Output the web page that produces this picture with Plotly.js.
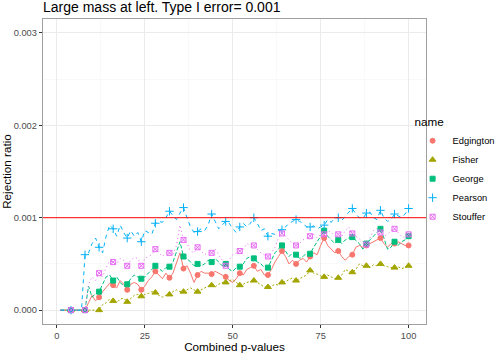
<!DOCTYPE html>
<html>
<head>
<meta charset="utf-8">
<script src="https://cdn.plot.ly/plotly-3.0.1.min.js"></script>
<style>
  body { margin: 0; background: #fff; }
  #chart { width: 498px; height: 353px; }
</style>
</head>
<body>
<div id="chart"></div>
<script>
// number of combined p-values (x axis)
const combinedP = [
  1, 2, 3, 4, 5, 6, 7, 8, 9, 10, 11, 12, 13, 14, 15, 16, 17, 18, 19, 20,
  21, 22, 23, 24, 25, 26, 27, 28, 29, 30, 31, 32, 33, 34, 35, 36, 37, 38, 39, 40,
  41, 42, 43, 44, 45, 46, 47, 48, 49, 50, 51, 52, 53, 54, 55, 56, 57, 58, 59, 60,
  61, 62, 63, 64, 65, 66, 67, 68, 69, 70, 71, 72, 73, 74, 75, 76, 77, 78, 79, 80,
  81, 82, 83, 84, 85, 86, 87, 88, 89, 90, 91, 92, 93, 94, 95, 96, 97, 98, 99, 100
];

const methods = ['Edgington', 'Fisher', 'George', 'Pearson', 'Stouffer'];

// rejection ratios
const edgington = [
  0, 0, 0, 0, 0, 0, 0, 0, 0.00008, 0.00016,
  0.00010, 0.00014, 0.00020, 0.00024, 0.00029, 0.00027, 0.00024, 0.00032, 0.00028, 0.00022,
  0.00028, 0.00030, 0.00028, 0.00022, 0.00026, 0.00032, 0.00036, 0.00042, 0.00038, 0.00034,
  0.00040, 0.00035, 0.00040, 0.00052, 0.00062, 0.00045, 0.00048, 0.00040, 0.00030, 0.00038,
  0.00042, 0.00040, 0.00040, 0.00039, 0.00042, 0.00040, 0.00038, 0.00036, 0.00032, 0.00030,
  0.00034, 0.00040, 0.00038, 0.00044, 0.00046, 0.00048, 0.00042, 0.00044, 0.00038, 0.00038,
  0.00044, 0.00052, 0.00058, 0.00064, 0.00058, 0.00050, 0.00054, 0.00050, 0.00054, 0.00056,
  0.00052, 0.00058, 0.00062, 0.00060, 0.00070, 0.00078, 0.00070, 0.00066, 0.00062, 0.00064,
  0.00058, 0.00054, 0.00058, 0.00060, 0.00068, 0.00070, 0.00068, 0.00070, 0.00072, 0.00074,
  0.00076, 0.00078, 0.00072, 0.00068, 0.00072, 0.00072, 0.00074, 0.00072, 0.00070, 0.00070
];
const fisher = [
  0, 0, 0, 0, 0, 0, 0, 0, 0, 0,
  0, 0, 0.00006, 0.00008, 0.00012, 0.00010, 0.00008, 0.00012, 0.00013, 0.00009,
  0.00012, 0.00016, 0.00017, 0.00015, 0.00017, 0.00018, 0.00020, 0.00019, 0.00016, 0.00014,
  0.00016, 0.00017, 0.00020, 0.00022, 0.00020, 0.00020, 0.00022, 0.00024, 0.00022, 0.00020,
  0.00022, 0.00024, 0.00026, 0.00027, 0.00025, 0.00028, 0.00030, 0.00030, 0.00032, 0.00033,
  0.00030, 0.00027, 0.00028, 0.00030, 0.00031, 0.00032, 0.00030, 0.00027, 0.00025, 0.00025,
  0.00026, 0.00028, 0.00027, 0.00030, 0.00031, 0.00033, 0.00035, 0.00032, 0.00034, 0.00036,
  0.00038, 0.00043, 0.00040, 0.00039, 0.00037, 0.00036, 0.00038, 0.00036, 0.00034, 0.00035,
  0.00038, 0.00044, 0.00042, 0.00041, 0.00044, 0.00050, 0.00048, 0.00048, 0.00046, 0.00049,
  0.00048, 0.00050, 0.00048, 0.00047, 0.00046, 0.00046, 0.00047, 0.00045, 0.00046, 0.00048
];
const george = [
  0, 0, 0, 0, 0, 0, 0, 0, 0.00026, 0.00014,
  0.00018, 0.00020, 0.00028, 0.00036, 0.00038, 0.00032, 0.00036, 0.00030, 0.00026, 0.00028,
  0.00034, 0.00038, 0.00036, 0.00034, 0.00036, 0.00040, 0.00044, 0.00048, 0.00045, 0.00042,
  0.00046, 0.00047, 0.00052, 0.00064, 0.00074, 0.00058, 0.00056, 0.00052, 0.00048, 0.00050,
  0.00048, 0.00050, 0.00054, 0.00052, 0.00056, 0.00052, 0.00048, 0.00050, 0.00044, 0.00042,
  0.00046, 0.00047, 0.00050, 0.00056, 0.00058, 0.00056, 0.00052, 0.00050, 0.00046, 0.00046,
  0.00054, 0.00062, 0.00066, 0.00070, 0.00064, 0.00058, 0.00062, 0.00060, 0.00056, 0.00058,
  0.00062, 0.00061, 0.00068, 0.00074, 0.00080, 0.00086, 0.00080, 0.00076, 0.00072, 0.00076,
  0.00072, 0.00076, 0.00078, 0.00079, 0.00076, 0.00072, 0.00066, 0.00072, 0.00076, 0.00080,
  0.00084, 0.00088, 0.00078, 0.00066, 0.00068, 0.00074, 0.00070, 0.00074, 0.00076, 0.00080
];
const pearson = [
  0, 0, 0, 0, 0, 0, 0, 0.00060, 0.00062, 0.00072,
  0.00078, 0.00068, 0.00062, 0.00080, 0.00092, 0.00088, 0.00080, 0.00092, 0.00084, 0.00078,
  0.00086, 0.00080, 0.00084, 0.00074, 0.00086, 0.00084, 0.00082, 0.00094, 0.00096, 0.00095,
  0.00100, 0.00107, 0.00102, 0.00098, 0.00105, 0.00111, 0.00100, 0.00090, 0.00084, 0.00085,
  0.00088, 0.00086, 0.00092, 0.00104, 0.00096, 0.00088, 0.00092, 0.00096, 0.00094, 0.00088,
  0.00084, 0.00090, 0.00094, 0.00090, 0.00094, 0.00100, 0.00094, 0.00086, 0.00088, 0.00080,
  0.00083, 0.00082, 0.00086, 0.00087, 0.00090, 0.00094, 0.00096, 0.00098, 0.00096, 0.00094,
  0.00090, 0.00090, 0.00091, 0.00088, 0.00090, 0.00092, 0.00098, 0.00095, 0.00100, 0.00100,
  0.00097, 0.00102, 0.00106, 0.00110, 0.00104, 0.00100, 0.00099, 0.00105, 0.00106, 0.00100,
  0.00098, 0.00108, 0.00100, 0.00096, 0.00098, 0.00104, 0.00102, 0.00100, 0.00104, 0.00110
];
const stouffer = [
  0, 0, 0, 0, 0, 0, 0, 0, 0.00028, 0.00036,
  0.00032, 0.00040, 0.00036, 0.00046, 0.00053, 0.00052, 0.00050, 0.00056, 0.00054, 0.00048,
  0.00054, 0.00057, 0.00056, 0.00048, 0.00056, 0.00058, 0.00060, 0.00066, 0.00062, 0.00058,
  0.00062, 0.00062, 0.00060, 0.00070, 0.00092, 0.00076, 0.00072, 0.00064, 0.00062, 0.00068,
  0.00064, 0.00060, 0.00062, 0.00062, 0.00066, 0.00060, 0.00054, 0.00048, 0.00054, 0.00060,
  0.00062, 0.00064, 0.00066, 0.00072, 0.00070, 0.00070, 0.00066, 0.00062, 0.00060, 0.00058,
  0.00062, 0.00068, 0.00078, 0.00083, 0.00080, 0.00076, 0.00072, 0.00070, 0.00072, 0.00076,
  0.00078, 0.00080, 0.00082, 0.00078, 0.00082, 0.00082, 0.00086, 0.00084, 0.00080, 0.00082,
  0.00080, 0.00086, 0.00090, 0.00083, 0.00080, 0.00078, 0.00074, 0.00071, 0.00078, 0.00086,
  0.00088, 0.00084, 0.00080, 0.00082, 0.00086, 0.00088, 0.00084, 0.00080, 0.00078, 0.00082
];

const typeIError = 0.001;

const seriesValues = [edgington, fisher, george, pearson, stouffer];
const colors = ['#F8766D', '#A3A500', '#00BF7D', '#00B0F6', '#E76BF3'];
const dashes = ['solid', '2px,2px', '4px,2px', '4px,4px', '1px,3px'];
const symbols = ['circle', 'triangle-up', 'square', 'cross-thin-open', 'square-x-open'];
const symbolSizes = [5, 6, 5, 6, 5];

const font = 'Liberation Sans, Arial, Helvetica, sans-serif';

// lines first, then the points (one point every 4th value)
const lineTraces = seriesValues.map((vals, i) => ({
    x: combinedP, y: vals, type: 'scatter', mode: 'lines',
    line: { color: colors[i], width: 1, dash: dashes[i] },
    showlegend: false, hoverinfo: 'skip'
}));

const pointTraces = seriesValues.map((vals, i) => {
    const idx = combinedP.map((p, k) => k).filter(k => combinedP[k] % 4 === 0);
    return {
        x: idx.map(k => combinedP[k]),
        y: idx.map(k => vals[k]),
        type: 'scatter', mode: 'markers', name: methods[i],
        marker: {
            symbol: symbols[i], size: symbolSizes[i], color: colors[i],
            line: { color: colors[i], width: 1 }
        }
    };
});

const layout = {
    width: 498, height: 353,
    margin: { l: 43, r: 72, t: 19, b: 29, autoexpand: false },
    paper_bgcolor: '#fff', plot_bgcolor: '#fff',
    font: { family: font, color: '#000' },
    title: {
        text: 'Large mass at left. Type I error= 0.001',
        font: { size: 14, color: '#000' },
        xref: 'paper', x: 0, xanchor: 'left',
        yref: 'container', y: 1, yanchor: 'top', pad: { t: 2 }
    },
    xaxis: {
        range: [-3.95, 104.95], tick0: 0, dtick: 25,
        ticks: 'outside', ticklen: 3, tickcolor: '#333',
        tickfont: { size: 9.3, color: '#4D4D4D' },
        showgrid: true, gridcolor: '#EBEBEB', gridwidth: 1,
        minor: { dtick: 12.5, showgrid: true, gridcolor: '#F5F5F5', gridwidth: 0.6 },
        zeroline: false, showline: true, mirror: true, linecolor: '#A0A0A0', linewidth: 1.2,
        title: { text: 'Combined p-values', font: { size: 11.7 }, standoff: 2 }
    },
    yaxis: {
        range: [-0.00015, 0.00315], tick0: 0, dtick: 0.001, tickformat: '.3f',
        ticks: 'outside', ticklen: 3, tickcolor: '#333',
        tickfont: { size: 9.3, color: '#4D4D4D' },
        showgrid: true, gridcolor: '#EBEBEB', gridwidth: 1,
        minor: { dtick: 0.0005, showgrid: true, gridcolor: '#F5F5F5', gridwidth: 0.6 },
        zeroline: false, showline: true, mirror: true, linecolor: '#A0A0A0', linewidth: 1.2,
        title: { text: 'Rejection ratio', font: { size: 11.7 }, standoff: 4 }
    },
    shapes: [{
        type: 'line', xref: 'paper', x0: 0, x1: 1, yref: 'y', y0: typeIError, y1: typeIError,
        line: { color: '#FF0000', width: 1 }, layer: 'above'
    }],
    legend: {
        x: 0.965, xanchor: 'left', y: 0.5, yanchor: 'middle',
        title: { text: 'name', font: { size: 11.7 } },
        font: { size: 9.3 }, bgcolor: 'rgba(0,0,0,0)', itemwidth: 30
    },
    showlegend: true
};

Plotly.newPlot('chart', [...lineTraces, ...pointTraces], layout, { displayModeBar: false, staticPlot: true });
</script>
</body>
</html>
